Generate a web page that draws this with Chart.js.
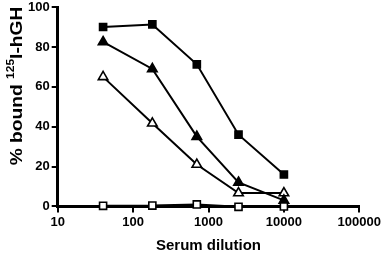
<!DOCTYPE html>
<html>
<head>
<meta charset="utf-8">
<script src="https://cdn.jsdelivr.net/npm/chart.js@4/dist/chart.umd.min.js"></script>
<style>
  html, body { margin: 0; padding: 0; background: #fff; }
  #wrap { width: 383px; height: 255px; }
</style>
</head>
<body>
<div id="wrap"><canvas id="myChart" width="383" height="255"></canvas></div>
<script>
// Diluições do soro (eixo x, log)
const dilutions = [40, 180, 700, 2500, 10000];
const xTicks = [10, 100, 1000, 10000, 100000];
const yTicks = [0, 20, 40, 60, 80, 100];

// % ligado para cada série
const filledSquare = [90, 91.3, 71.3, 36, 16];
const filledTriangle = [82.5, 69, 35, 12, 3];
const openTriangle = [65, 41.7, 21, 6.7, 6.7];
const openSquare = [0.3, 0.4, 1, -0.2, 0];

function toPoints(values) {
    return dilutions.map((d, i) => ({ x: d, y: values[i] }));
}

function serie(values, style, fill) {
    return {
        data: toPoints(values),
        borderColor: '#000',
        borderWidth: 2,
        pointStyle: style,
        pointRadius: style === 'rect' ? 5 : 5.5,
        pointBorderWidth: 1.6,
        pointBorderColor: '#000',
        pointBackgroundColor: fill ? '#000' : '#fff',
        clip: false
    };
}

const family = 'Liberation Sans, Arial, sans-serif';
const font = { family: family, weight: 'bold', size: 13 };

// Título do eixo y com sobrescrito (125)
const yTitlePlugin = {
    id: 'yTitle',
    afterDraw(chart) {
        const c = chart.ctx;
        c.save();
        c.translate(16, 86);
        c.rotate(-Math.PI / 2);
        c.scale(1.2, 1);
        c.fillStyle = '#000';
        c.textBaseline = 'alphabetic';
        const big = 'bold 16px ' + family;
        const small = 'bold 10px ' + family;
        const parts = [['% bound ', big, 0], ['125', small, -8], ['I-hGH', big, 0]];
        let total = 0;
        parts.forEach(p => { c.font = p[1]; total += c.measureText(p[0]).width; });
        let x = -total / 2;
        parts.forEach(p => {
            c.font = p[1];
            c.fillText(p[0], x, 6 + p[2]);
            x += c.measureText(p[0]).width;
        });
        c.restore();
    }
};

const ctx = document.getElementById('myChart').getContext('2d');
const myChart = new Chart(ctx, {
    type: 'line',
    data: {
        datasets: [
            serie(openSquare, 'rect', false),
            serie(filledSquare, 'rect', true),
            serie(filledTriangle, 'triangle', true),
            serie(openTriangle, 'triangle', false)
        ]
    },
    options: {
        responsive: false,
        animation: false,
        layout: { padding: { top: 0, right: 0, left: 26, bottom: 0 } },
        plugins: { legend: { display: false }, tooltip: { enabled: false } },
        scales: {
            x: {
                type: 'logarithmic',
                min: 10,
                max: 100000,
                afterBuildTicks: (axis) => { axis.ticks = xTicks.map(v => ({ value: v })); },
                ticks: {
                    color: '#000',
                    font: font,
                    maxRotation: 0,
                    padding: 2,
                    callback: (v) => String(v)
                },
                grid: { drawOnChartArea: false, color: '#000', lineWidth: 2, tickLength: 6 },
                border: { color: '#000', width: 3 },
                title: { display: true, text: 'Serum dilution', color: '#000', font: { ...font, size: 15 }, padding: { top: 5, bottom: 0 } }
            },
            y: {
                min: 0,
                max: 100,
                afterBuildTicks: (axis) => { axis.ticks = yTicks.map(v => ({ value: v })); },
                afterFit: (axis) => { axis.paddingTop = 6; },
                ticks: { color: '#000', font: font, padding: 2 },
                grid: { drawOnChartArea: false, color: '#000', lineWidth: 2, tickLength: 6 },
                border: { color: '#000', width: 3 }
            }
        }
    },
    plugins: [yTitlePlugin]
});
</script>
</body>
</html>
